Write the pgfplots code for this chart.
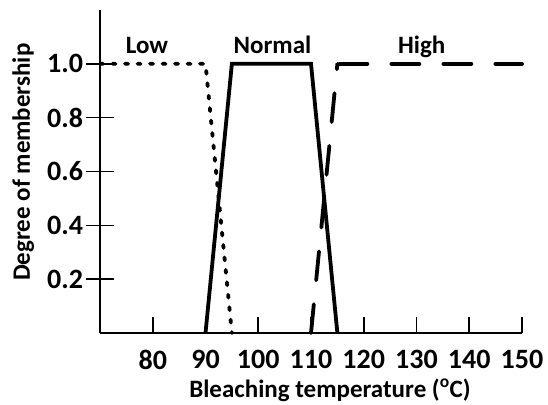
\documentclass[border=0pt]{standalone}
\usepackage{fontspec}
\setmainfont{Carlito}
\usepackage{pgfplots}
\pgfplotsset{compat=1.18}
\begin{document}
\begin{tikzpicture}
\begin{axis}[
  scale only axis,
  width=422pt, height=323pt,
  xmin=70, xmax=150, ymin=0, ymax=1.2,
  axis lines*=left,
  axis line style={-, line width=1.8pt},
  xtick={80,90,...,150},
  ytick={0.2,0.4,0.6,0.8,1.0},
  tick align=center,
  major tick length=27pt,
  xtick style={draw=none},
  ytick style={draw=none},
  /pgf/number format/assume math mode=true,
  xticklabel style={font=\fontsize{28}{30}\selectfont\bfseries},
  yticklabel style={font=\fontsize{28}{30}\selectfont\bfseries,
    /pgf/number format/.cd, fixed, fixed zerofill, precision=1},
  label style={font=\fontsize{25}{28}\selectfont\bfseries},
  xlabel={Bleaching temperature (\textsuperscript{o}C)},
  ylabel={Degree of membership},
  xlabel style={at={(axis description cs:0.545,-0.176)}, anchor=center},
  ylabel style={at={(axis description cs:-0.182,0.529)}, anchor=center},
  clip=false,
]
% x tick marks (pointing up from the axis)
\addplot[black, line width=1.6pt, ycomb, no marks] coordinates {
  (80,0.06) (90,0.06) (100,0.06) (110,0.06) (120,0.06) (130,0.06) (140,0.06) (150,0.06)
};
% y tick marks (crossing the axis)
\addplot[black, line width=1.6pt, no marks] coordinates {(67.4,0.2) (72.7,0.2)};
\addplot[black, line width=1.6pt, no marks] coordinates {(67.4,0.4) (72.7,0.4)};
\addplot[black, line width=1.6pt, no marks] coordinates {(67.4,0.6) (72.7,0.6)};
\addplot[black, line width=1.6pt, no marks] coordinates {(67.4,0.8) (72.7,0.8)};
\addplot[black, line width=1.6pt, no marks] coordinates {(67.4,1.0) (72.7,1.0)};
% Low
\addplot[black, line width=3.8pt, line cap=round, dash pattern=on 3pt off 9.5pt] coordinates {
  (70,1) (90,1) (95,0)
};
% Normal
\addplot[black, line width=3.8pt] coordinates {
  (90,0) (95,1) (110,1) (115,0)
};
% High (rising edge and plateau dashed separately)
\addplot[black, line width=3.8pt, line cap=round, dash pattern=on 29pt off 24pt] coordinates {
  (110,0) (115,1)
};
\addplot[black, line width=3.8pt, line cap=round, dash pattern=on 28pt off 24pt, dash phase=-2pt] coordinates {
  (115,1) (150,1)
};
\node[anchor=base, font=\fontsize{25}{28}\selectfont\bfseries] at (axis cs:78.9,1.04) {Low};
\node[anchor=base, font=\fontsize{25}{28}\selectfont\bfseries] at (axis cs:102.7,1.04) {Normal};
\node[anchor=base, font=\fontsize{25}{28}\selectfont\bfseries] at (axis cs:131,1.04) {High};
% page extent
\path (axis description cs:-0.237,1.031) (axis description cs:1.0616,-0.2167);
\end{axis}
\end{tikzpicture}
\end{document}
